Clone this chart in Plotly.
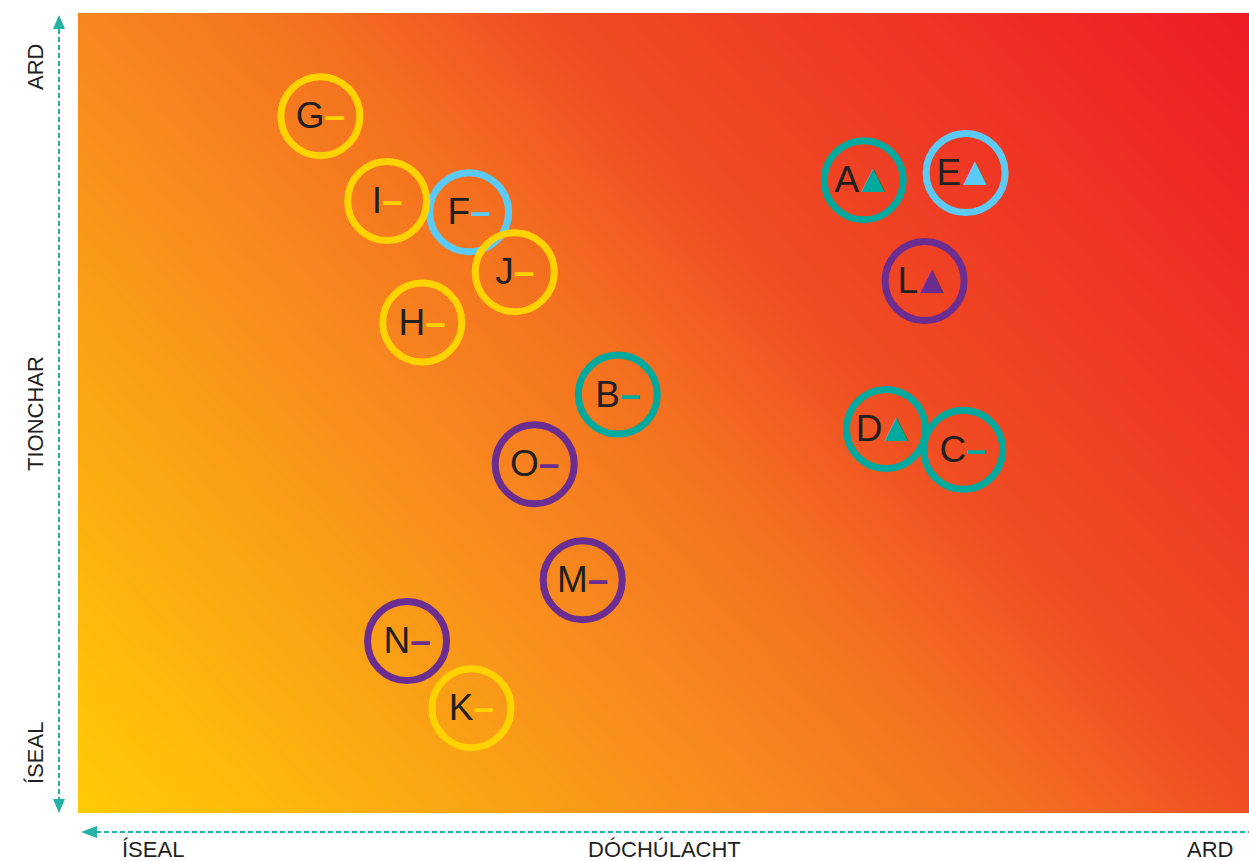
import plotly.graph_objects as go

# ---- data ----
labels = ["A", "B", "C", "D", "E", "F", "G", "H", "I", "J", "K", "L", "M", "N", "O"]
likelihood = [67.1, 46.1, 75.6, 69.0, 75.8, 33.4, 20.7, 29.4, 26.4, 37.3, 33.6, 72.3, 43.1, 28.1, 39.0]
impact = [79.1, 52.3, 45.4, 48.0, 80.0, 75.1, 87.1, 61.3, 76.5, 67.6, 13.1, 66.5, 29.1, 21.5, 43.6]
group = ["teal", "teal", "teal", "teal", "blue", "blue", "yellow", "yellow", "yellow", "yellow",
         "yellow", "purple", "purple", "purple", "purple"]
trend = ["up", "flat", "flat", "up", "up", "flat", "flat", "flat", "flat", "flat",
         "flat", "up", "flat", "flat", "flat"]

y_labels = ["ÍSEAL", "TIONCHAR", "ARD"]
x_labels = ["ÍSEAL", "DÓCHÚLACHT", "ARD"]

# ---- styles ----
ring_colors = {"teal": "#00A99D", "blue": "#5BCBF5", "yellow": "#FFD200", "purple": "#6B2D90"}
arrow_color = "#22B1A3"
W, H = 1249, 861
L, R, T, B = 78, 0, 13, 48
PW, PH = W - L - R, H - T - B
TEXT_SHIFT_PX = 3  # label baseline nudge inside rings


def px(x):
    return (x - L) / PW


def py(y):
    return (H - B - y) / PH


fig = go.Figure()

# gradient background
fig.add_trace(go.Heatmap(
    x=[0, 100], y=[0, 100], z=[[0.0, 0.62], [0.38, 1.0]],
    zsmooth="best", showscale=False, hoverinfo="skip",
    colorscale=[[0.0, "#FFCB05"], [0.38, "#F7861F"], [0.5, "#F4701F"], [0.62, "#F04E23"], [1.0, "#EE1C25"]],
    zmin=0, zmax=1,
))

texts = []
for lab, g, t in zip(labels, group, trend):
    c = ring_colors[g]
    if t == "up":
        txt = (f"<span style='letter-spacing:-6px'>{lab}</span>"
               f"<span style='color:{c};font-size:40px'>▲</span>")
    else:
        txt = f"{lab}<span style='color:{c};font-weight:bold'>–</span>"
    texts.append(txt)

fig.add_trace(go.Scatter(
    x=likelihood, y=impact, mode="markers",
    marker=dict(size=79, color="rgba(0,0,0,0)",
                line=dict(width=7, color=[ring_colors[g] for g in group])),
    hoverinfo="skip", cliponaxis=False,
))
shift = TEXT_SHIFT_PX * 100 / PH
fig.add_trace(go.Scatter(
    x=likelihood, y=[v - shift for v in impact], mode="text",
    text=texts, textposition="middle center",
    textfont=dict(family="Liberation Sans, Arial, sans-serif", size=37, color="#231F20"),
    hoverinfo="skip", cliponaxis=False,
))

shapes = []
# vertical dashed arrow
vx = 59
shapes.append(dict(type="line", xref="paper", yref="paper", x0=px(vx), x1=px(vx), y0=py(29), y1=py(799),
                   line=dict(color=arrow_color, width=2, dash="5px,3px")))
shapes.append(dict(type="path", xref="paper", yref="paper",
                   path=f"M {px(vx)},{py(15)} L {px(vx-6)},{py(29)} L {px(vx+6)},{py(29)} Z",
                   fillcolor=arrow_color, line=dict(width=0)))
shapes.append(dict(type="path", xref="paper", yref="paper",
                   path=f"M {px(vx)},{py(813)} L {px(vx-6)},{py(799)} L {px(vx+6)},{py(799)} Z",
                   fillcolor=arrow_color, line=dict(width=0)))
# horizontal dashed arrow
hy = 832
shapes.append(dict(type="line", xref="paper", yref="paper", x0=px(96), x1=px(1252), y0=py(hy), y1=py(hy),
                   line=dict(color=arrow_color, width=2, dash="5px,3px")))
shapes.append(dict(type="path", xref="paper", yref="paper",
                   path=f"M {px(81)},{py(hy)} L {px(97)},{py(hy-6)} L {px(97)},{py(hy+6)} Z",
                   fillcolor=arrow_color, line=dict(width=0)))

font_lbl = dict(family="Liberation Sans, Arial, sans-serif", size=22, color="#231F20")
annotations = []
for lab, yy in zip(y_labels, [753, 414, 67]):
    annotations.append(dict(text=lab, xref="paper", yref="paper", x=px(35), y=py(yy),
                            textangle=-90, showarrow=False, font=font_lbl,
                            xanchor="center", yanchor="middle"))
for lab, xx in zip(x_labels, [153, 664, 1210]):
    annotations.append(dict(text=lab, xref="paper", yref="paper", x=px(xx), y=py(849),
                            showarrow=False, font=font_lbl, xanchor="center", yanchor="middle"))

fig.update_layout(
    width=W, height=H, margin=dict(l=L, r=R, t=T, b=B),
    paper_bgcolor="white", plot_bgcolor="white", showlegend=False,
    xaxis=dict(range=[0, 100], visible=False, fixedrange=True),
    yaxis=dict(range=[0, 100], visible=False, fixedrange=True),
    shapes=shapes, annotations=annotations,
)

fig.write_html("out.html", config={"displayModeBar": False},
               post_script="document.body.style.margin='0';document.body.style.overflow='hidden';")
